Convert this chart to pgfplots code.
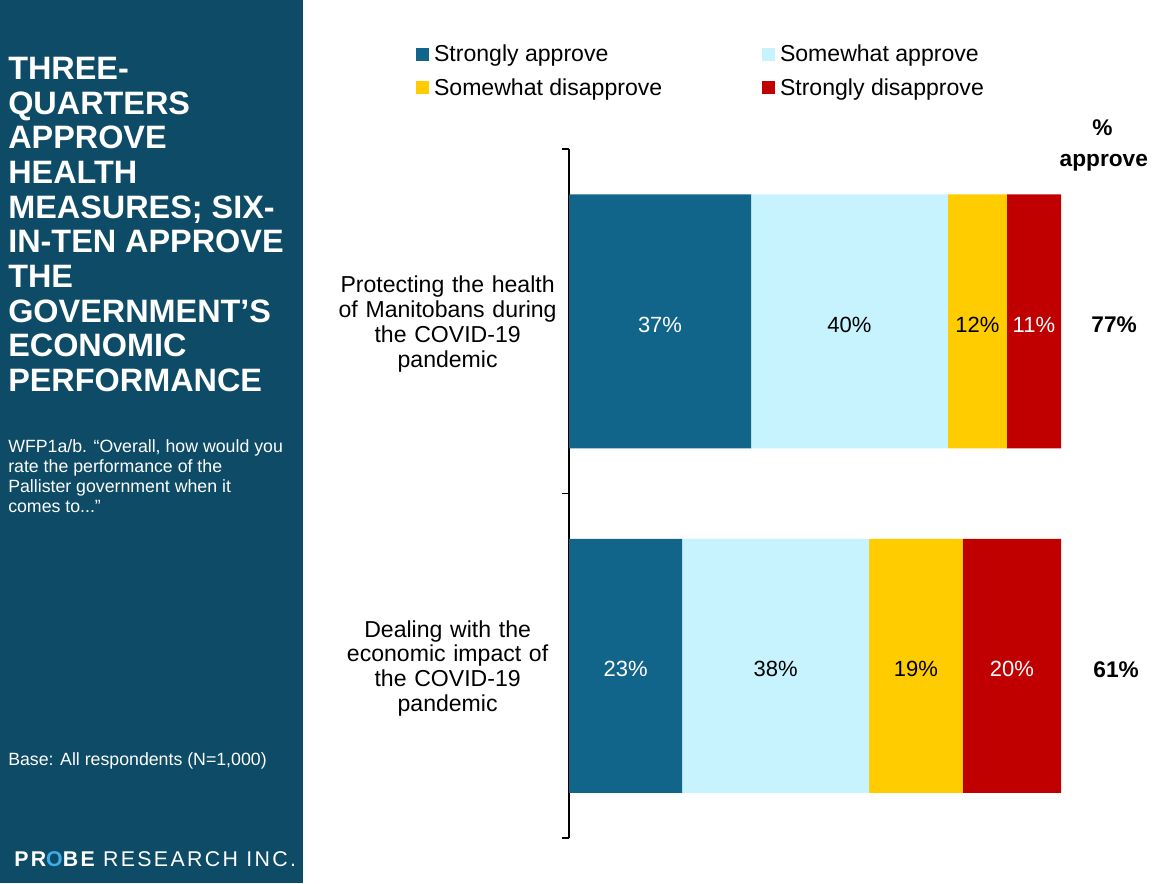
\documentclass[border=0pt]{standalone}
\usepackage{pgfplots}
\pgfplotsset{compat=1.18}
\usepackage{fontspec}
\setmainfont{Liberation Sans}
\definecolor{panel}{HTML}{0D4B66}
\definecolor{sa}{HTML}{12658A}
\definecolor{swa}{HTML}{C6F3FD}
\definecolor{swd}{HTML}{FFCC00}
\definecolor{sd}{HTML}{C00000}
\definecolor{logoblue}{HTML}{3DAEE9}
\begin{document}
\begin{tikzpicture}
\begin{scope}[x=0.75pt,y=-0.75pt]
\path[use as bounding box] (0,0) rectangle (1172,883);
\fill[white] (0,0) rectangle (1172,883);
\fill[panel] (0,0) rectangle (303,883);
\node[anchor=north west, inner sep=0pt, align=left, text=white, font=\fontsize{24.3}{26}\selectfont\bfseries] at (8,57) {THREE-\\QUARTERS\\APPROVE\\HEALTH\\MEASURES; SIX-\\IN-TEN APPROVE\\THE\\GOVERNMENT’S\\ECONOMIC\\PERFORMANCE};
\node[anchor=north west, inner sep=0pt, align=left, text=white, font=\fontsize{13.3}{15.2}\selectfont] at (8,439) {WFP1a/b. “Overall, how would you\\rate the performance of the\\Pallister government when it\\comes to...”};
\node[anchor=west, inner sep=0pt, text=white, font=\fontsize{13.3}{15}\selectfont] at (8,761) {Base: All respondents (N=1,000)};
\node[anchor=west, inner sep=0pt, text=white, font=\fontsize{16}{16}\selectfont] at (14,859) {\addfontfeature{LetterSpace=11}\bfseries PR{\color{logoblue}O}BE \mdseries RESEARCH INC.};
\end{scope}
\begin{axis}[
 at={(426.75pt,-628.5pt)}, anchor=south west,
 scale only axis, width=369pt, height=516.75pt,
 xbar stacked, bar width=190.5pt,
 xmin=0, xmax=100, ymin=0.5, ymax=2.5,
 hide x axis,
 axis y line*=left,
 ytick={1,2},
 yticklabels={{Dealing with the\\economic impact of\\the COVID-19\\pandemic},{Protecting the health\\of Manitobans during\\the COVID-19\\pandemic}},
 yticklabel style={align=center, text width=170pt, font=\fontsize{17.3}{18.6}\selectfont, xshift=-2.5pt, yshift=-2pt},
 major tick length=0pt,
 extra y ticks={0.5,1.5,2.5}, extra y tick labels={},
 extra y tick style={major tick length=5.25pt, tick align=outside, tick style={black, line width=0.8pt}},
 axis line style={black, line width=0.9pt},
 clip=false,
 visualization depends on=rawx \as \rawx,
 nodes near coords={\pgfmathprintnumber[fixed,precision=0,assume math mode=true]{\rawx}\%},
 every node near coord/.append style={anchor=center, yshift=-2.5pt, font=\fontsize{16.5}{16.5}\selectfont},
 legend columns=2,
 legend cell align=left,
 legend image code/.code={\fill[#1] (0pt,-4.9pt) rectangle (9.8pt,4.9pt);},
 legend style={at={(-0.319,1.159)}, anchor=north west, draw=none, fill=none, font=\fontsize{17.3}{17.3}\selectfont, row sep=7pt, /tikz/every odd column/.append style={column sep=1.5pt}, /tikz/every even column/.append style={column sep=73pt}},
]
\addplot[fill=sa, draw=none, every node near coord/.append style={text=white}] coordinates {(37,2) (23,1)};
\addplot[fill=swa, draw=none, every node near coord/.append style={text=black}] coordinates {(40,2) (38,1)};
\addplot[fill=swd, draw=none, every node near coord/.append style={text=black}] coordinates {(12,2) (19,1)};
\addplot[fill=sd, draw=none, every node near coord/.append style={text=white}] coordinates {(11,2) (20,1)};
\legend{Strongly approve, Somewhat approve, Somewhat disapprove, Strongly disapprove}
\node[font=\fontsize{17}{17}\selectfont\bfseries] at (axis cs:108.4,2.561) {\%};
\node[font=\fontsize{17}{17}\selectfont\bfseries] at (axis cs:108.7,2.46) {approve};
\node[font=\fontsize{17}{17}\selectfont\bfseries] at (axis cs:110.8,1.99) {77\%};
\node[font=\fontsize{17}{17}\selectfont\bfseries] at (axis cs:111.2,0.99) {61\%};
\end{axis}
\end{tikzpicture}
\end{document}
